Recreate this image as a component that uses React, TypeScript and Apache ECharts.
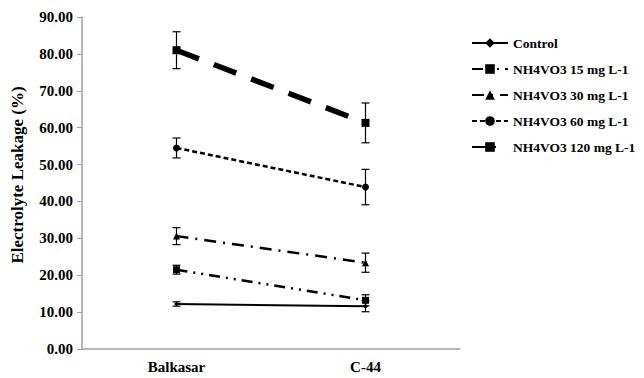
import React, { useEffect, useRef } from "react";
import * as echarts from "echarts";

const categories = ["Balkasar", "C-44"];
const seriesNames = [
  "Control",
  "NH4VO3 15 mg L-1",
  "NH4VO3 30 mg L-1",
  "NH4VO3 60 mg L-1",
  "NH4VO3 120 mg L-1",
];
const control = [12.2, 11.6];
const nh15 = [21.5, 13.2];
const nh30 = [30.6, 23.4];
const nh60 = [54.5, 43.9];
const nh120 = [81.0, 61.3];
const errControl = [0.6, 1.5];
const err15 = [1.2, 1.5];
const err30 = [2.3, 2.6];
const err60 = [2.7, 4.8];
const err120 = [5.0, 5.4];
const yTicks = [0, 10, 20, 30, 40, 50, 60, 70, 80, 90];
const yTitle = "Electrolyte Leakage (%)";

const FONT = "'Liberation Serif', 'Times New Roman', serif";

export default function App() {
  const ref = useRef<HTMLDivElement>(null);
  useEffect(() => {
    const chart = echarts.init(ref.current!, undefined, { renderer: "svg" });
    const values = [control, nh15, nh30, nh60, nh120];
    const errs = [errControl, err15, err30, err60, err120];
    const styles = [
      { width: 2, type: "solid" as any, symbol: "diamond", size: 5 },
      { width: 2.5, type: [11, 6, 2, 6, 2, 6], symbol: "rect", size: 7 },
      { width: 2.5, type: [12, 7, 2, 7], symbol: "triangle", size: 7 },
      { width: 2.5, type: [5, 3], symbol: "circle", size: 7 },
      { width: 5.5, type: [24, 16], symbol: "rect", size: 8 },
    ];
    const errData: number[][] = [];
    values.forEach((v, si) =>
      v.forEach((val, ci) => errData.push([ci, val - errs[si][ci], val + errs[si][ci]]))
    );
    const lineSeries = values.map((v, i) => ({
      name: seriesNames[i],
      type: "line",
      data: v,
      symbol: styles[i].symbol,
      symbolSize: styles[i].size,
      itemStyle: { color: "#000" },
      lineStyle: { color: "#000", width: styles[i].width, type: styles[i].type },
      z: 3,
    }));
    chart.setOption({
      animation: false,
      grid: { left: 82, right: 184, top: 17, bottom: 29, containLabel: false },
      legend: {
        orient: "vertical",
        left: 466,
        top: 31,
        itemWidth: 36,
        itemHeight: 12,
        itemGap: 12,
        data: seriesNames,
        textStyle: { fontFamily: FONT, fontWeight: "bold", fontSize: 13.5, color: "#000" },
      },
      graphic: [
        {
          type: "text",
          x: 17,
          y: 175,
          rotation: Math.PI / 2,
          style: {
            text: yTitle,
            fontFamily: FONT,
            fontWeight: "bold",
            fontSize: 17,
            fill: "#000",
            align: "center",
            verticalAlign: "middle",
          },
        },
      ],
      xAxis: {
        type: "category",
        data: categories,
        boundaryGap: true,
        axisLine: { lineStyle: { color: "#a0a0a0", width: 1.5 } },
        axisTick: { show: false },
        axisLabel: { fontFamily: FONT, fontWeight: "bold", fontSize: 15, color: "#000", margin: 10 },
      },
      yAxis: {
        type: "value",
        min: 0,
        max: 90,
        interval: 10,
        splitLine: { show: false },
        axisLine: { show: true, lineStyle: { color: "#a0a0a0", width: 1.5 } },
        axisTick: { show: true, length: 5, lineStyle: { color: "#a0a0a0" } },
        axisLabel: {
          fontFamily: FONT,
          fontWeight: "bold",
          fontSize: 15,
          color: "#000",
          margin: 9,
          formatter: (v: number) => (yTicks.includes(v) ? v.toFixed(2) : ""),
        },
      },
      series: [
        ...lineSeries,
        {
          type: "custom",
          data: errData,
          z: 4,
          renderItem: (params: any, api: any) => {
            const x = api.value(0);
            const lo = api.coord([x, api.value(1)]);
            const hi = api.coord([x, api.value(2)]);
            const w = 4;
            const st = { stroke: "#000", lineWidth: 1.2 };
            return {
              type: "group",
              children: [
                { type: "line", shape: { x1: lo[0], y1: lo[1], x2: hi[0], y2: hi[1] }, style: st },
                { type: "line", shape: { x1: lo[0] - w, y1: lo[1], x2: lo[0] + w, y2: lo[1] }, style: st },
                { type: "line", shape: { x1: hi[0] - w, y1: hi[1], x2: hi[0] + w, y2: hi[1] }, style: st },
              ],
            };
          },
        },
      ],
    });
    return () => chart.dispose();
  }, []);
  return <div ref={ref} style={{ width: 644, height: 378, position: "absolute", left: 0, top: 0, background: "#fff" }} />;
}
